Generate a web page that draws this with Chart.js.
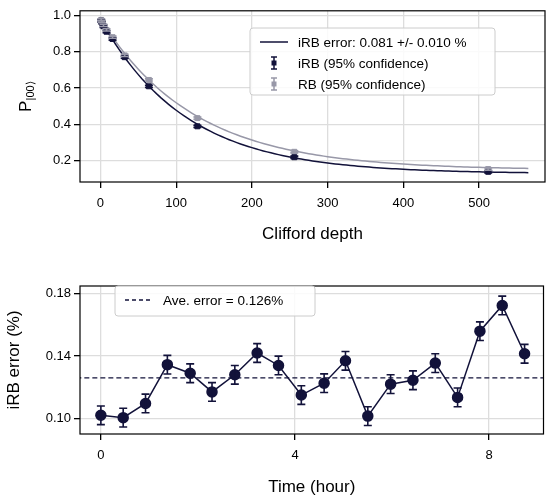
<!DOCTYPE html>
<html><head><meta charset="utf-8">
<script src="https://cdn.jsdelivr.net/npm/chart.js@4.4.0/dist/chart.umd.min.js"></script>
<style>
body{margin:0;background:#fff;font-family:"Liberation Sans",Arial,sans-serif}
.box{position:absolute;left:0;width:550px;height:252px}
</style></head><body>
<div class="box" style="top:0"><canvas id="top"></canvas></div>
<div class="box" style="top:252px"><canvas id="bot"></canvas></div>
<script>
'use strict';

// top panel: RB decay
let depths = [1, 2, 4, 8, 16, 32, 64, 128, 256, 512];
let irbVals = [0.97, 0.96, 0.94, 0.91, 0.87, 0.77, 0.61, 0.39, 0.22, 0.14];
let rbVals = [0.975, 0.965, 0.945, 0.92, 0.88, 0.78, 0.645, 0.435, 0.25, 0.155];
let irbFit = {A: 0.85, p: 0.99112, B: 0.13};
let rbFit = {A: 0.83, p: 0.99194, B: 0.15};

// bottom panel: iRB error vs time
let hours = [0, 0.46, 0.92, 1.37, 1.84, 2.29, 2.76, 3.22, 3.66, 4.13,
  4.6, 5.04, 5.5, 5.97, 6.43, 6.89, 7.35, 7.81, 8.27, 8.73];
let errVals = [0.102, 0.1005, 0.1096, 0.1345, 0.129, 0.117, 0.128, 0.142, 0.134, 0.115,
  0.1226, 0.137, 0.1015, 0.122, 0.1245, 0.1355, 0.1135, 0.156, 0.1725, 0.1415];
let errBars = 0.006;
let aveErr = 0.126;

const NAVY = '#12123a', GRAY = '#9898a8', FONT = 'Liberation Sans';
Chart.defaults.font.family = FONT;
Chart.defaults.color = '#000';

function fitCurve(f) {
  let pts = [];
  for (let m = 0; m <= 565; m += 5) pts.push({x: m, y: f.A * Math.pow(f.p, m) + f.B});
  return pts;
}

const errPlugin = {
  id: 'errbars',
  afterDatasetsDraw(chart) {
    const ctx = chart.ctx;
    chart.data.datasets.forEach(ds => {
      if (!ds.err) return;
      const xs = chart.scales.x, ys = chart.scales.y;
      ctx.save();
      ctx.strokeStyle = ds.errColor; ctx.lineWidth = 1.6;
      ds.data.forEach(p => {
        const x = xs.getPixelForValue(p.x);
        const y1 = ys.getPixelForValue(p.y - ds.err), y2 = ys.getPixelForValue(p.y + ds.err);
        ctx.beginPath();
        ctx.moveTo(x, y1); ctx.lineTo(x, y2);
        ctx.moveTo(x - 4, y1); ctx.lineTo(x + 4, y1);
        ctx.moveTo(x - 4, y2); ctx.lineTo(x + 4, y2);
        ctx.stroke();
      });
      ctx.restore();
    });
  }
};

const frame = {
  id: 'frame',
  afterDraw(chart, a, opts) {
    const c = chart.ctx, ca = chart.chartArea;
    c.save();
    c.strokeStyle = '#000'; c.lineWidth = 1.2;
    c.strokeRect(ca.left, ca.top, ca.right - ca.left, ca.bottom - ca.top);
    // legend box
    const L = opts.legend;
    c.fillStyle = 'rgba(255,255,255,0.85)'; c.strokeStyle = '#ccc'; c.lineWidth = 1;
    c.beginPath(); c.roundRect(L.x, L.y, L.w, L.h, 3); c.fill(); c.stroke();
    c.font = '13.5px ' + FONT; c.textBaseline = 'middle';
    L.items.forEach((it, i) => {
      const y = L.y + 14 + i * 21;
      const x0 = L.x + 10;
      c.strokeStyle = it.color; c.fillStyle = it.color; c.lineWidth = 1.5;
      if (it.kind === 'line' || it.kind === 'dash') {
        c.setLineDash(it.kind === 'dash' ? [4, 3] : []);
        c.beginPath(); c.moveTo(x0, y); c.lineTo(x0 + 28, y); c.stroke();
        c.setLineDash([]);
      } else {
        const xm = x0 + 14;
        c.beginPath(); c.moveTo(xm, y - 6); c.lineTo(xm, y + 6);
        c.moveTo(xm - 3, y - 6); c.lineTo(xm + 3, y - 6);
        c.moveTo(xm - 3, y + 6); c.lineTo(xm + 3, y + 6); c.stroke();
        c.fillRect(xm - 2.5, y - 2.5, 5, 5);
      }
      c.fillStyle = '#000';
      c.fillText(it.text, x0 + 38, y + 1);
    });
    if (opts.ylab) {
      c.translate(26, (ca.top + ca.bottom) / 2);
      c.rotate(-Math.PI / 2);
      c.font = '17px ' + FONT; c.textAlign = 'center';
      c.fillText('P', -10, 0);
      c.font = '11px ' + FONT; c.textAlign = 'left';
      c.fillText('|00⟩', -4, 5);
    }
    c.restore();
  }
};

function axisWidth(s) { s.width = 80; }

new Chart(document.getElementById('top'), {
  type: 'scatter',
  data: {datasets: [
    {data: depths.map((d, i) => ({x: d, y: irbVals[i]})), pointStyle: 'rect', pointRadius: 3.5,
     backgroundColor: NAVY, borderColor: NAVY, err: 0.006, errColor: NAVY},
    {data: depths.map((d, i) => ({x: d, y: rbVals[i]})), pointStyle: 'rect', pointRadius: 3.5,
     backgroundColor: GRAY, borderColor: GRAY, err: 0.006, errColor: GRAY},
    {data: fitCurve(rbFit), showLine: true, pointRadius: 0, borderColor: GRAY, borderWidth: 1.5},
    {data: fitCurve(irbFit), showLine: true, pointRadius: 0, borderColor: NAVY, borderWidth: 1.5}
  ]},
  options: {
    responsive: true, maintainAspectRatio: false, animation: false,
    layout: {padding: {top: -8, right: 2, left: 0, bottom: 3}},
    plugins: {legend: {display: false}, tooltip: {enabled: false},
      frame: {ylab: true, legend: {x: 250, y: 28, w: 245, h: 67, items: [
        {kind: 'line', color: NAVY, text: 'iRB error: 0.081 +/- 0.010 %'},
        {kind: 'err', color: NAVY, text: 'iRB (95% confidence)'},
        {kind: 'err', color: GRAY, text: 'RB (95% confidence)'}]}}},
    scales: {
      x: {min: -27, max: 587,
          afterBuildTicks: s => { s.ticks = [0,100,200,300,400,500].map(v => ({value: v})); },
          ticks: {font: {size: 13}, color: '#000', padding: 8},
          grid: {color: '#ddd', lineWidth: 1.3, tickLength: 6, tickColor: '#000'},
          border: {display: false},
          title: {display: true, text: 'Clifford depth', font: {size: 17}, padding: {top: 5}}},
      y: {min: 0.084, max: 1.025, afterFit: axisWidth,
          afterBuildTicks: s => { s.ticks = [0.2,0.4,0.6,0.8,1.0].map(v => ({value: v})); },
          ticks: {font: {size: 13}, color: '#000', callback: v => v.toFixed(1)},
          grid: {color: '#ddd', lineWidth: 1.3, tickLength: 6, tickColor: '#000'},
          border: {display: false}}
    }
  },
  plugins: [errPlugin, frame]
});

new Chart(document.getElementById('bot'), {
  type: 'scatter',
  data: {datasets: [
    {data: hours.map((h, i) => ({x: h, y: errVals[i]})), showLine: true, borderColor: NAVY,
     borderWidth: 1.5, pointRadius: 5, backgroundColor: NAVY, err: errBars, errColor: NAVY},
    {data: [{x: -1, y: aveErr}, {x: 10, y: aveErr}], showLine: true, pointRadius: 0,
     borderColor: NAVY, borderWidth: 1.3, borderDash: [5, 3]}
  ]},
  options: {
    responsive: true, maintainAspectRatio: false, animation: false,
    layout: {padding: {top: 34, right: 2, left: 0, bottom: 2}},
    plugins: {legend: {display: false}, tooltip: {enabled: false},
      frame: {legend: {x: 115, y: 34, w: 200, h: 30, items: [
        {kind: 'dash', color: NAVY, text: 'Ave. error = 0.126%'}]}}},
    scales: {
      x: {min: -0.43, max: 9.12,
          afterBuildTicks: s => { s.ticks = [0,4,8].map(v => ({value: v})); },
          ticks: {font: {size: 13}, color: '#000', padding: 8},
          grid: {color: '#ddd', lineWidth: 1.3, tickLength: 6, tickColor: '#000'},
          border: {display: false},
          title: {display: true, text: 'Time (hour)', font: {size: 17}, padding: {top: 6}}},
      y: {min: 0.090, max: 0.185, afterFit: axisWidth,
          afterBuildTicks: s => { s.ticks = [0.10,0.14,0.18].map(v => ({value: v})); },
          ticks: {font: {size: 13}, color: '#000', callback: v => v.toFixed(2)},
          grid: {color: '#ddd', lineWidth: 1.3, tickLength: 6, tickColor: '#000'},
          border: {display: false},
          title: {display: true, text: 'iRB error (%)', font: {size: 17}, padding: {bottom: 8}}}
    }
  },
  plugins: [errPlugin, frame]
});
</script>
</body></html>
